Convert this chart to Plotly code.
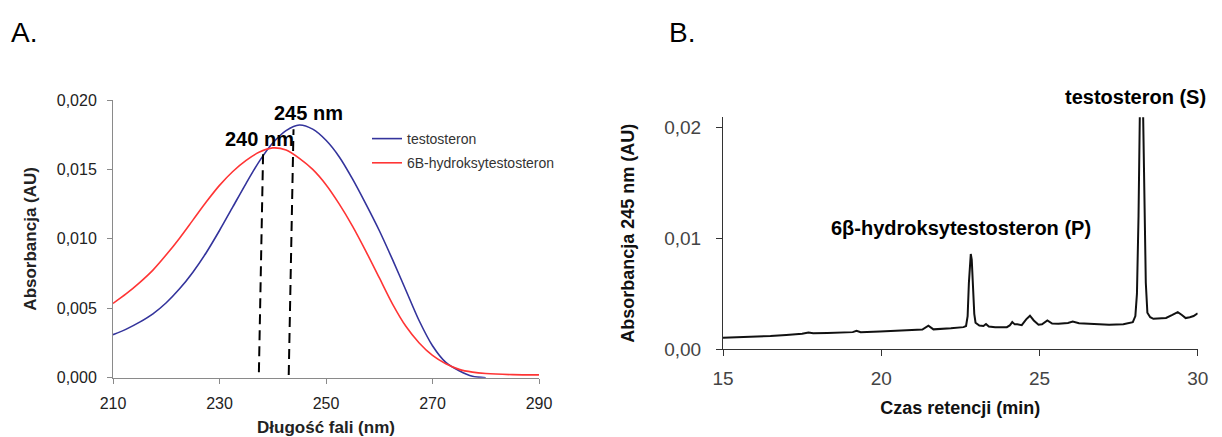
import plotly.graph_objects as go

# ---------- Panel A: UV spectra ----------
series_names = ["testosteron", "6B-hydroksytestosteron"]
wavelength_nm = [210, 212.5, 215, 217.5, 220, 222.5, 225, 227.5, 230, 232.5, 235, 237.5, 240, 242.5, 245,
                 247.5, 250, 252.5, 255, 257.5, 260, 262.5, 265, 267.5, 270, 272.5, 275, 277.5, 280,
                 285, 290]
abs_testosteron = [0.0031, 0.0035, 0.0040, 0.0046, 0.0054, 0.0064, 0.0076, 0.0090, 0.0106, 0.0123, 0.0140,
                   0.0156, 0.0169, 0.0178, 0.0182, 0.0179, 0.0171, 0.0159, 0.0143, 0.0125, 0.0106, 0.0085,
                   0.0063, 0.0041, 0.0023, 0.0011, 0.0005, 0.0001, 0.0000, None, None]
abs_6b_hydroksy = [0.00535, 0.00605, 0.00685, 0.00775, 0.00885, 0.01005, 0.01135, 0.01265, 0.01385,
                   0.01485, 0.01565, 0.01625, 0.01655, 0.0164, 0.0158, 0.0150, 0.0139, 0.0125, 0.0109,
                   0.0091, 0.0072, 0.0053, 0.0037, 0.0025, 0.0016, 0.0010, 0.0006, 0.0004, 0.0003,
                   0.00022, 0.0002]

# dashed marker lines at the maxima
dash_x = [[237.4, 238.2], [243.0, 243.9]]
dash_y = [[0.0004, 0.0164], [0.0002, 0.0179]]
peak_labels = ["240 nm", "245 nm"]
peak_label_x = [237.6, 246.8]
peak_label_y = [0.0172, 0.0191]

# ---------- Panel B: chromatogram ----------
time_min = [15.0, 15.5, 16.0, 16.5, 17.0, 17.5, 17.7, 17.85, 18.3, 18.8, 19.1, 19.22, 19.35, 19.96, 20.5,
            21.0, 21.3, 21.49, 21.65, 22.2, 22.6, 22.68, 22.73, 22.77, 22.81, 22.83, 22.86, 22.90, 22.94,
            22.98, 23.1, 23.23, 23.31, 23.4, 23.6, 23.97, 24.06, 24.14, 24.22, 24.3, 24.44, 24.58, 24.70,
            24.82, 24.97, 25.08, 25.25, 25.4, 25.6, 25.9, 26.05, 26.25, 26.7, 27.2, 27.65, 27.95, 28.03,
            28.08, 28.13, 28.18, 28.22, 28.26, 28.31, 28.36, 28.41, 28.5, 28.6, 28.8, 29.0, 29.2, 29.37,
            29.5, 29.62, 29.75, 29.87, 30.0]
abs_245 = [0.00105, 0.00110, 0.00113, 0.00120, 0.00130, 0.00140, 0.00152, 0.00145, 0.00148, 0.00153,
           0.00155, 0.00168, 0.00155, 0.00160, 0.00165, 0.00172, 0.00178, 0.00213, 0.00180, 0.00190,
           0.00200, 0.00210, 0.00300, 0.00600, 0.00830, 0.00860, 0.00810, 0.00580, 0.00320, 0.00240,
           0.00215, 0.00210, 0.00228, 0.00205, 0.00198, 0.00200, 0.00215, 0.00246, 0.00225, 0.00225,
           0.00218, 0.00270, 0.00303, 0.00260, 0.00222, 0.00225, 0.00260, 0.00232, 0.00230, 0.00238,
           0.00250, 0.00236, 0.00232, 0.00222, 0.00226, 0.00245, 0.00300, 0.00500, 0.01200, 0.02400,
           0.03200, 0.02400, 0.01500, 0.00600, 0.00330, 0.00290, 0.00275, 0.00280, 0.00283, 0.00310,
           0.00335, 0.00310, 0.00282, 0.00290, 0.00300, 0.00325]
peak_names = ["6β-hydroksytestosteron (P)", "testosteron (S)"]
peak_name_x = [22.52, 28.05]
peak_name_y_paper = [1 - 228 / 437, 1 - 97 / 437]

FONT = "Liberation Sans, Arial, sans-serif"
W, H = 1222, 437

fig = go.Figure()

colors = ["#34349c", "#ff3535"]
for name, ys, c in zip(series_names, [abs_testosteron, abs_6b_hydroksy], colors):
    fig.add_trace(go.Scatter(x=wavelength_nm, y=ys, name=name, mode="lines",
                             line=dict(color=c, width=1.6, shape="spline", smoothing=0.8),
                             xaxis="x", yaxis="y", legendgroup=name))

for xs, ys in zip(dash_x, dash_y):
    fig.add_trace(go.Scatter(x=xs, y=ys, mode="lines", showlegend=False,
                             line=dict(color="black", width=2, dash="10px,6px"),
                             xaxis="x", yaxis="y", hoverinfo="skip"))

fig.add_trace(go.Scatter(x=time_min, y=abs_245, mode="lines", showlegend=False,
                         line=dict(color="#111111", width=2),
                         xaxis="x2", yaxis="y2"))

annotations = []
for t, x, y in zip(peak_labels, peak_label_x, peak_label_y):
    annotations.append(dict(text="<b>" + t + "</b>", x=x, y=y, xref="x", yref="y", showarrow=False,
                            font=dict(family=FONT, size=20, color="black"),
                            xanchor="center", yanchor="middle"))
for t, x, y in zip(peak_names, peak_name_x, peak_name_y_paper):
    annotations.append(dict(text="<b>" + t + "</b>", x=x, y=y, xref="x2", yref="paper", showarrow=False,
                            font=dict(family=FONT, size=20, color="black"),
                            xanchor="center", yanchor="middle"))

annotations.append(dict(text="A.", x=9 / W, y=1 - 33 / H, xref="paper", yref="paper", showarrow=False,
                        font=dict(family=FONT, size=28, color="black"), xanchor="left", yanchor="middle"))
annotations.append(dict(text="B.", x=667 / W, y=1 - 33 / H, xref="paper", yref="paper", showarrow=False,
                        font=dict(family=FONT, size=28, color="black"), xanchor="left", yanchor="middle"))

fig.update_layout(
    width=W, height=H,
    margin=dict(l=0, r=0, t=0, b=0, autoexpand=False),
    paper_bgcolor="white", plot_bgcolor="white",
    separators=", ",
    font=dict(family=FONT, color="#222"),
    showlegend=True,
    legend=dict(x=367 / W, y=1 - 123 / H, xanchor="left", yanchor="top",
                font=dict(family=FONT, size=14, color="#333"),
                bgcolor="rgba(0,0,0,0)", itemwidth=30, tracegroupgap=3),
    annotations=annotations,
    xaxis=dict(domain=[113 / W, 539 / W], range=[210, 290], tickvals=[210, 230, 250, 270, 290],
               showline=True, linecolor="#8a8a8a", linewidth=1, ticks="outside", ticklen=5,
               tickcolor="#8a8a8a", showgrid=False, zeroline=False, ticklabelstandoff=6, automargin=False,
               tickfont=dict(family=FONT, size=16, color="#222"),
               title=dict(text="<b>Długość fali (nm)</b>", font=dict(family=FONT, size=17, color="#222"),
                          standoff=13),
               anchor="y"),
    yaxis=dict(domain=[(H - 377.7) / H, (H - 100) / H], range=[0, 0.020],
               tickvals=[0, 0.005, 0.010, 0.015, 0.020], tickformat=".3f",
               showline=True, linecolor="#8a8a8a", linewidth=1, ticks="outside", ticklen=5,
               tickcolor="#8a8a8a", showgrid=False, zeroline=False, ticklabelstandoff=7, automargin=False,
               tickfont=dict(family=FONT, size=16, color="#222"),
               title=dict(text="<b>Absorbancja (AU)</b>", font=dict(family=FONT, size=17, color="#222"),
                          standoff=15),
               anchor="x"),
    xaxis2=dict(domain=[723 / W, 1197.7 / W], range=[15, 30], tickvals=[15, 20, 25, 30],
                showline=True, linecolor="#333", linewidth=1, ticks="outside", ticklen=6,
                tickcolor="#333", showgrid=False, zeroline=False, ticklabelstandoff=6, automargin=False,
                tickfont=dict(family=FONT, size=19, color="#444"),
                title=dict(text="<b>Czas retencji (min)</b>", font=dict(family=FONT, size=18, color="#111"),
                           standoff=13),
                anchor="y2"),
    yaxis2=dict(domain=[(H - 349.3) / H, (H - 117.3) / H], range=[0, 0.02094],
                tickvals=[0, 0.01, 0.02], tickformat=".2f",
                showline=True, linecolor="#333", linewidth=1, ticks="outside", ticklen=6,
                tickcolor="#333", showgrid=False, zeroline=False, ticklabelstandoff=11, automargin=False,
                tickfont=dict(family=FONT, size=19, color="#444"),
                title=dict(text="<b>Absorbancja 245 nm (AU)</b>", font=dict(family=FONT, size=18, color="#111"),
                           standoff=24),
                anchor="x2"),
)

fig.write_html("out.html", config={"displayModeBar": False},
               post_script="document.body.style.margin='0px';document.body.style.overflow='hidden';")
